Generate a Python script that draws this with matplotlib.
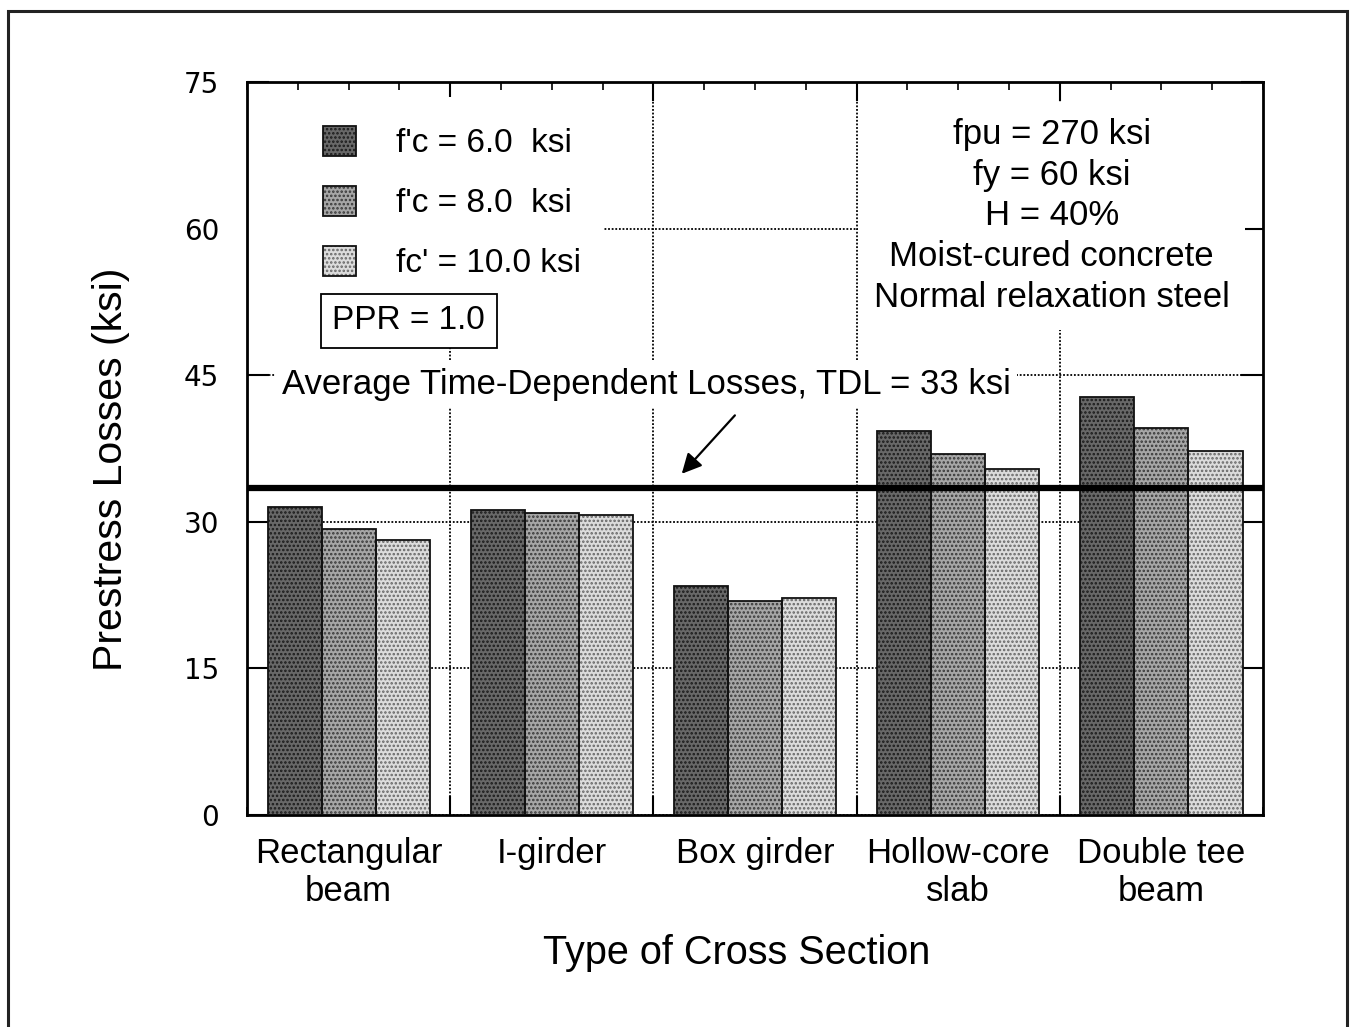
import numpy as np
import matplotlib as mpl
mpl.use("Agg")
import matplotlib.pyplot as plt
from matplotlib.patches import Patch, Rectangle
from matplotlib.legend_handler import HandlerTuple
from matplotlib.ticker import FixedLocator, MultipleLocator, FuncFormatter

sections = ["Rectangular\nbeam", "I-girder", "Box girder", "Hollow-core\nslab", "Double tee\nbeam"]
series_labels = ["f'c = 6.0  ksi", "f'c = 8.0  ksi", "fc' = 10.0 ksi"]
loss_fc6 = [31.5, 31.2, 23.4, 39.3, 42.8]
loss_fc8 = [29.3, 30.9, 21.9, 36.9, 39.6]
loss_fc10 = [28.1, 30.7, 22.2, 35.4, 37.2]
tdl_line = 33.5
tdl_label = "Average Time-Dependent Losses, TDL = 33 ksi"
params_text = "fpu = 270 ksi\nfy = 60 ksi\nH = 40%\nMoist-cured concrete\nNormal relaxation steel"
ppr_text = "PPR = 1.0"

faces = ["#686868", "#a6a6a6", "#dcdcdc"]
dots = ["#1a1a1a", "#383838", "#666666"]

plt.rcParams["font.family"] = ["Liberation Sans", "DejaVu Sans"]
plt.rcParams["hatch.linewidth"] = 1.2

fig = plt.figure(figsize=(13.5, 10.27), dpi=100)
ax = fig.add_axes([0.183, 0.2064, 0.7526, 0.7138])

centers = np.arange(len(sections)) + 0.5
w = 0.266
handles = []
for i, vals in enumerate([loss_fc6, loss_fc8, loss_fc10]):
  x = centers + (i - 1) * w
  ax.bar(x, vals, w, color=faces[i], edgecolor=dots[i], hatch="....", linewidth=0, zorder=2)
  ax.bar(x, vals, w, fill=False, edgecolor="#111111", linewidth=1.3, zorder=3)
  handles.append((Patch(facecolor=faces[i], edgecolor=dots[i], hatch="....", linewidth=0),
      Patch(fill=False, edgecolor="#111111", linewidth=1.3)))

ax.axhline(tdl_line, color="black", linewidth=4.5, zorder=4)

ax.set_xlim(0, 5)
ax.set_ylim(0, 75)
ax.set_axisbelow(True)
ax.grid(True, which="major", linestyle=(0, (1.0, 1.0)), color="black", linewidth=1.3)

ax.xaxis.set_major_locator(FixedLocator([1, 2, 3, 4]))
ax.xaxis.set_major_formatter(FuncFormatter(lambda v, p: ""))
ax.xaxis.set_minor_locator(MultipleLocator(0.25))
lookup = dict((round(c, 2), s) for c, s in zip(centers, sections))
ax.xaxis.set_minor_formatter(FuncFormatter(lambda v, p: lookup.get(round(v, 2), "")))
ax.yaxis.set_major_locator(MultipleLocator(15))

ax.tick_params(axis="y", which="major", direction="in", length=16, width=1.5, right=True,
    labelsize=20, pad=20, labelfontfamily="DejaVu Sans")
ax.tick_params(axis="x", which="major", direction="in", length=14, width=1.5, top=True)
ax.tick_params(axis="x", which="minor", direction="in", length=6, width=1.2, top=True,
    labelsize=25, pad=16)
for lab in ax.get_xticklabels(minor=True):
  lab.set_ha("center")
  lab.set_multialignment("center")

for s in ax.spines.values():
  s.set_linewidth(2)

ax.set_ylabel("Prestress Losses (ksi)", fontsize=29.5)
ax.yaxis.set_label_coords(-0.115, 0.472)
ax.set_xlabel("Type of Cross Section", fontsize=28.5)
ax.xaxis.set_label_coords(0.482, -0.162)

# white patch hiding the grid behind the legend block
ax.add_patch(Rectangle((0.0, 0.645), 0.35, 0.335, transform=ax.transAxes,
    facecolor="white", edgecolor="none", zorder=1))

leg = ax.legend(handles, series_labels, handler_map={tuple: HandlerTuple(ndivide=1)},
    loc="upper left", bbox_to_anchor=(0.058, 0.963), frameon=False, fontsize=24,
    handlelength=1.0, handleheight=1.0, handletextpad=1.2, labelspacing=0.8, borderpad=0)
leg.set_zorder(5)

ax.text(0.159, 0.674, ppr_text, transform=ax.transAxes, fontsize=24, ha="center", va="center",
    zorder=5, bbox=dict(boxstyle="square,pad=0.35", facecolor="white", edgecolor="black", linewidth=1.3))

ax.text(0.792, 0.951, params_text, transform=ax.transAxes, fontsize=25, ha="center", va="top",
    linespacing=1.3, zorder=5, bbox=dict(boxstyle="square,pad=0.45", facecolor="white", edgecolor="none"))

ax.text(0.034, 0.587, tdl_label, transform=ax.transAxes, fontsize=25, ha="left", va="center",
    zorder=5, bbox=dict(boxstyle="square,pad=0.2", facecolor="white", edgecolor="none"))

ax.annotate("", xy=(2.13, 34.7), xytext=(2.41, 41.1),
    arrowprops=dict(arrowstyle="-|>", color="black", lw=1.6, mutation_scale=30), zorder=6)

fig.add_artist(Rectangle((8 / 1350, -0.01), 1339 / 1350, 1 - 11 / 1027 + 0.01,
    transform=fig.transFigure, fill=False, edgecolor="#222222", linewidth=2.2))

fig.savefig("out.png", dpi=100, facecolor="white")
